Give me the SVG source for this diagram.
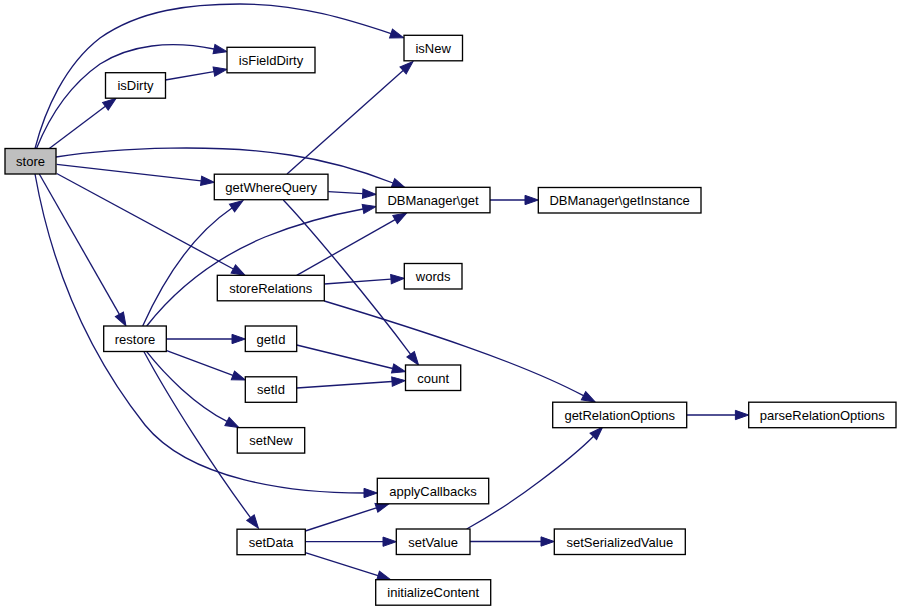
<svg xmlns="http://www.w3.org/2000/svg" width="901" height="611" viewBox="0 0 901 611">
<style>
.n rect{fill:#fff;stroke:#000;stroke-width:1.33}
.n.root rect{fill:#bfbfbf}
.n text{font-family:"Liberation Sans",Arial,Helvetica,sans-serif;font-size:13px;text-anchor:middle;fill:#000}
.e path{fill:none;stroke:#191970;stroke-width:1.33;marker-end:url(#ah)}
</style>
<defs>
<marker id="ah" markerUnits="userSpaceOnUse" markerWidth="15" markerHeight="11" refX="0" refY="5" orient="auto" overflow="visible">
<path d="M0,0.35 L13.3,5 L0,9.65 Z" fill="#191970" stroke="#191970" stroke-width="1"/>
</marker>
</defs>
<rect width="901" height="611" fill="#fff"/>
<g id="edges" class="e">
<path d="M35,148.5 C45,110 65,65 100,38 C140,10 190,4 240,4 C300,4 350,20 391,33.6"/>
<path d="M36.5,148.5 C50,115 70,85 100,64 C130,45 170,40 214,49"/>
<path d="M49.3,148.5 L105.4,106.3"/>
<path d="M165.3,80 L213.9,71.6"/>
<path d="M56,157 C120,147 220,144 290,155 C330,161 365,172 393,183"/>
<path d="M56.7,164.3 L201.1,180.8"/>
<path d="M56.7,173.5 L233.3,269"/>
<path d="M39.3,174 L119.4,314.4"/>
<path d="M35,174 C45,230 70,330 145,425 C190,480 290,493 364,493"/>
<path d="M287,174 L403.1,70.4"/>
<path d="M328.3,191.7 L362.7,193.6"/>
<path d="M283.3,200 C310,228 370,300 410.6,354.3"/>
<path d="M490,200 L525,200"/>
<path d="M142.7,326 C158,292 185,240 232,208"/>
<path d="M146.7,326 C175,290 215,258 265,237 C300,223 330,215 363,209"/>
<path d="M166.3,339 L232,339"/>
<path d="M166.7,350.7 L232.9,375.4"/>
<path d="M146.7,351.7 C165,375 195,405 227,421.4"/>
<path d="M144,351.7 C170,400 215,470 250.5,517.6"/>
<path d="M296.7,275.3 L395.1,219.6"/>
<path d="M324.3,284 L391,279.2"/>
<path d="M324.3,301 C420,330 520,362 583.5,395.7"/>
<path d="M296.7,345 L392.6,368.5"/>
<path d="M296.7,388 L392,381.5"/>
<path d="M686.7,415 L735.4,415"/>
<path d="M305.3,531 L376.4,507.8"/>
<path d="M305.3,541.7 L383,541.7"/>
<path d="M305.3,552.7 L378,575.7"/>
<path d="M466.7,529 C490,516 515,500 540,481 C560,466 578,452 593.3,436.5"/>
<path d="M470,541.5 L541,541.5"/>
</g>
<g id="store" class="n root"><rect x="5" y="148.5" width="51" height="25.5"/><text x="30.5" y="166">store</text></g>
<g id="isDirty" class="n"><rect x="105.5" y="72.7" width="60" height="25.5"/><text x="135.5" y="90.2">isDirty</text></g>
<g id="isFieldDirty" class="n"><rect x="227" y="47.3" width="88" height="25.5"/><text x="271" y="64.8">isFieldDirty</text></g>
<g id="isNew" class="n"><rect x="404" y="35.3" width="58.5" height="25.5"/><text x="433.2" y="52.8">isNew</text></g>
<g id="getWhereQuery" class="n"><rect x="214.3" y="174.2" width="113.7" height="25.5"/><text x="271.2" y="191.7">getWhereQuery</text></g>
<g id="DBManager_get" class="n"><rect x="376" y="187.3" width="114" height="25.5"/><text x="433" y="204.8">DBManager\get</text></g>
<g id="DBManager_getInstance" class="n"><rect x="538.3" y="187.5" width="162.7" height="25.5"/><text x="619.6" y="205">DBManager\getInstance</text></g>
<g id="storeRelations" class="n"><rect x="217.3" y="275.3" width="107" height="25.5"/><text x="270.8" y="292.8">storeRelations</text></g>
<g id="words" class="n"><rect x="404.3" y="263.5" width="57.7" height="25.5"/><text x="433.2" y="281">words</text></g>
<g id="restore" class="n"><rect x="103.7" y="326" width="62.6" height="25.5"/><text x="135" y="343.5">restore</text></g>
<g id="getId" class="n"><rect x="245.3" y="326" width="51.4" height="25.5"/><text x="271" y="343.5">getId</text></g>
<g id="setId" class="n"><rect x="245.3" y="376.8" width="51.4" height="25.5"/><text x="271" y="394.3">setId</text></g>
<g id="count" class="n"><rect x="405.5" y="365" width="55.2" height="25.5"/><text x="433.1" y="382.5">count</text></g>
<g id="setNew" class="n"><rect x="237.3" y="427.6" width="67.4" height="25.5"/><text x="271" y="445.1">setNew</text></g>
<g id="getRelationOptions" class="n"><rect x="552.7" y="402.2" width="134" height="25.5"/><text x="619.7" y="419.7">getRelationOptions</text></g>
<g id="parseRelationOptions" class="n"><rect x="748.7" y="402.2" width="147.3" height="25.5"/><text x="822.3" y="419.7">parseRelationOptions</text></g>
<g id="applyCallbacks" class="n"><rect x="377.3" y="478.3" width="111.4" height="25.5"/><text x="433" y="495.8">applyCallbacks</text></g>
<g id="setData" class="n"><rect x="237" y="529.2" width="68.3" height="25.5"/><text x="271.1" y="546.7">setData</text></g>
<g id="setValue" class="n"><rect x="396.3" y="529" width="73.7" height="25.5"/><text x="433.1" y="546.5">setValue</text></g>
<g id="setSerializedValue" class="n"><rect x="554.3" y="529" width="131" height="25.5"/><text x="619.8" y="546.5">setSerializedValue</text></g>
<g id="initializeContent" class="n"><rect x="375.7" y="579.7" width="115" height="25.5"/><text x="433.2" y="597.2">initializeContent</text></g>
</svg>
